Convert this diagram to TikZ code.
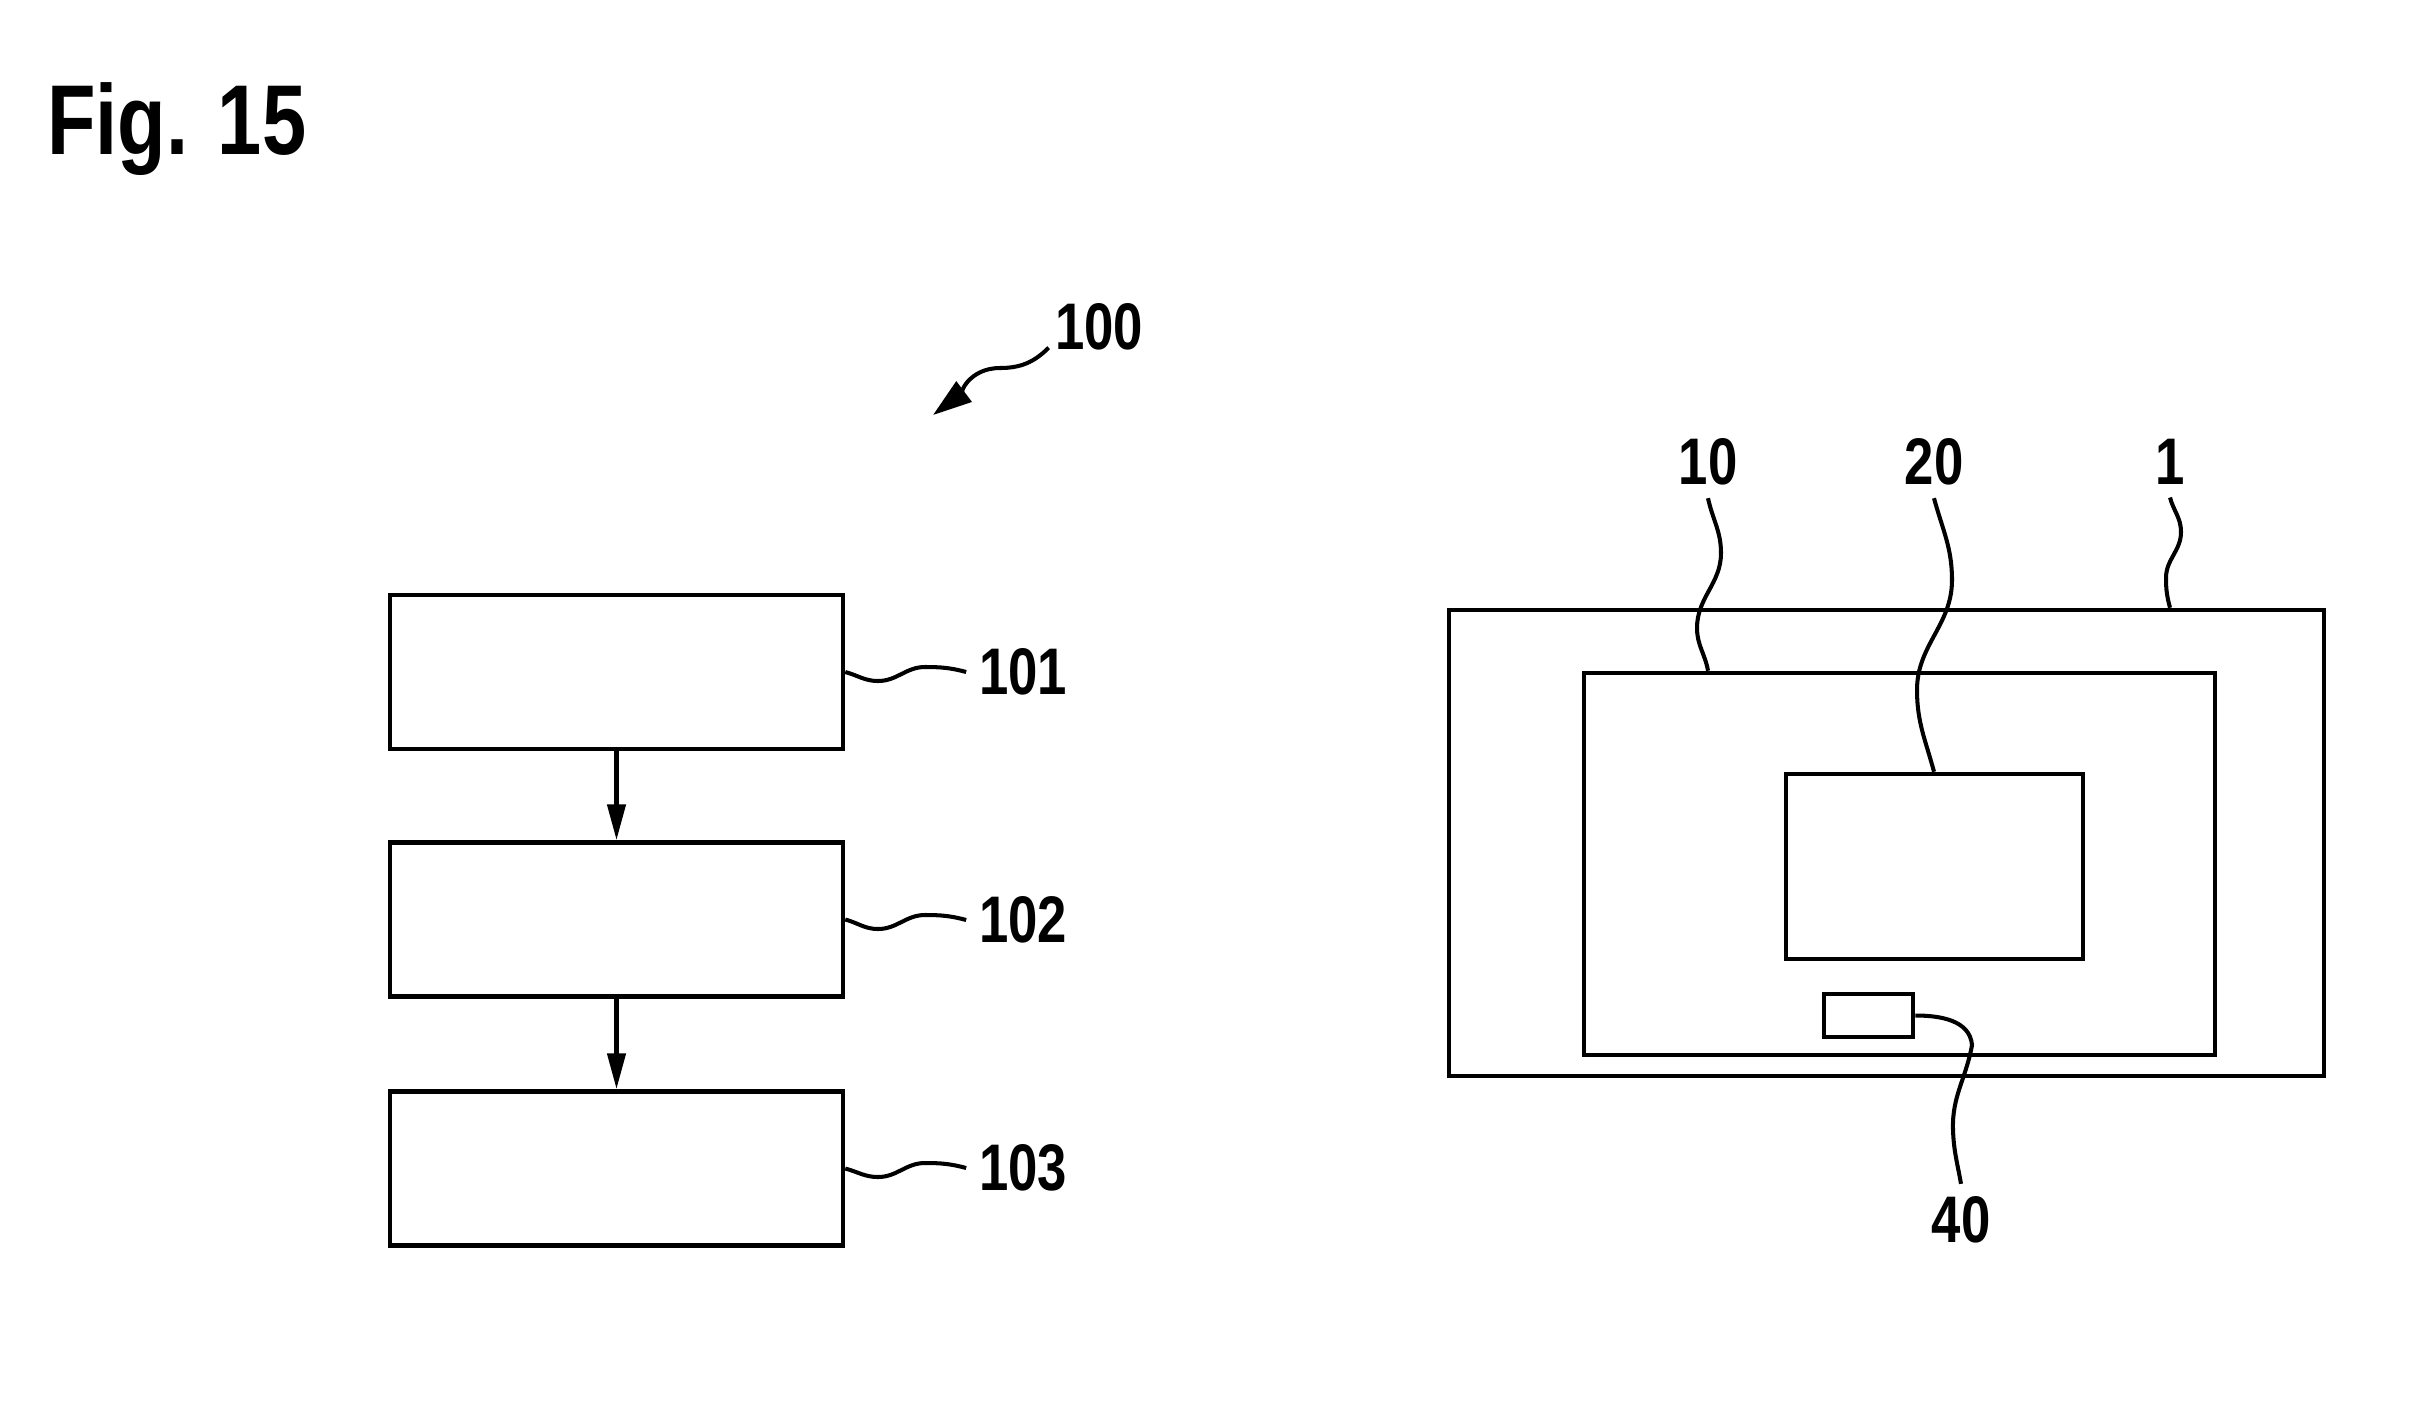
\documentclass[tikz,border=0pt]{standalone}
\usepackage{fontspec}
\newfontfamily\numfont[FakeStretch=0.8]{Liberation Sans}
\usetikzlibrary{arrows.meta}
\begin{document}
\begin{tikzpicture}[x=0.02cm,y=0.02cm,
		box/.style={draw,line width=2.6pt,inner sep=0pt},
		num/.style={font=\numfont\bfseries\fontsize{37.5pt}{40pt}\selectfont,inner sep=0.25cm},
		lead/.style={line width=2.3pt}]
		\useasboundingbox(0,0)rectangle(2432,-1401);
		\node[anchor=base west,inner sep=0pt,font=\numfont\bfseries\fontsize{56.5pt}{60pt}\selectfont](fig)at(47,-154){Fig. 15};
		\node[box,minimum width=9.06cm,minimum height=3.08cm](b101)at(616.5,-672){};
		\node[box,minimum width=9.06cm,minimum height=3.08cm](b102)at(616.5,-919.5){};
		\node[box,minimum width=9.06cm,minimum height=3.08cm](b103)at(616.5,-1168.5){};
		\node[num](t100)at(1099,-327){100};
		\node[num](t101)at(1023,-672){101};
		\node[num](t102)at(1023,-920){102};
		\node[num](t103)at(1023,-1168){103};
		\coordinate(p100)at(933,-415);
		\draw[line width=2.6pt,-{Triangle[length=0.72cm,width=0.36cm]}](b101)--(b102);
		\draw[line width=2.6pt,-{Triangle[length=0.72cm,width=0.36cm]}](b102)--(b103);
		\draw[lead,-{Triangle[length=0.78cm,width=0.5cm]}]([xshift=0.13cm]t100.200)to[out=225,in=0](1000,-368)to[out=180,in=37](p100);
		\draw[lead](b101.east)to[out=-15,in=180](878,-681)to[out=0,in=180](925,-667)to[out=0,in=165](t101.west);
		\draw[lead](b102.east)to[out=-15,in=180](878,-929)to[out=0,in=180](925,-915)to[out=0,in=165](t102.west);
		\draw[lead](b103.east)to[out=-15,in=180](878,-1177)to[out=0,in=180](925,-1163)to[out=0,in=165](t103.west);
		\node[box,minimum width=17.5cm,minimum height=9.32cm](b1)at(1886.5,-843){};
		\node[box,minimum width=12.62cm,minimum height=7.64cm](b10)at(1899.5,-864){};
		\node[box,minimum width=5.94cm,minimum height=3.7cm](b20)at(1934.5,-866.5){};
		\node[box,minimum width=1.78cm,minimum height=0.86cm](b40)at(1868.5,-1015.5){};
		\node[num](t10)at(1708,-462){10};
		\node[num](t20)at(1934,-462){20};
		\node[num](t1)at(2170,-462){1};
		\node[num](t40)at(1961,-1220){40};
		\draw[lead](t10.south)to[out=-78,in=90](1721,-553)to[out=-90,in=90](1697,-628)to[out=-90,in=100](t10|-b10.north);
		\draw[lead](t20.south)to[out=-75,in=90](1952,-580)to[out=-90,in=90](1917,-690)to[out=-90,in=105](t20|-b20.north);
		\draw[lead](t1.south)to[out=-75,in=90](2181,-532)to[out=-90,in=90](2166,-578)to[out=-90,in=105](t1|-b1.north);
		\draw[lead](b40.east)to[out=0,in=95](1972,-1045)to[out=-100,in=92](1953,-1130)to[out=-88,in=100](t40.north);
	\end{tikzpicture}
\end{document}
